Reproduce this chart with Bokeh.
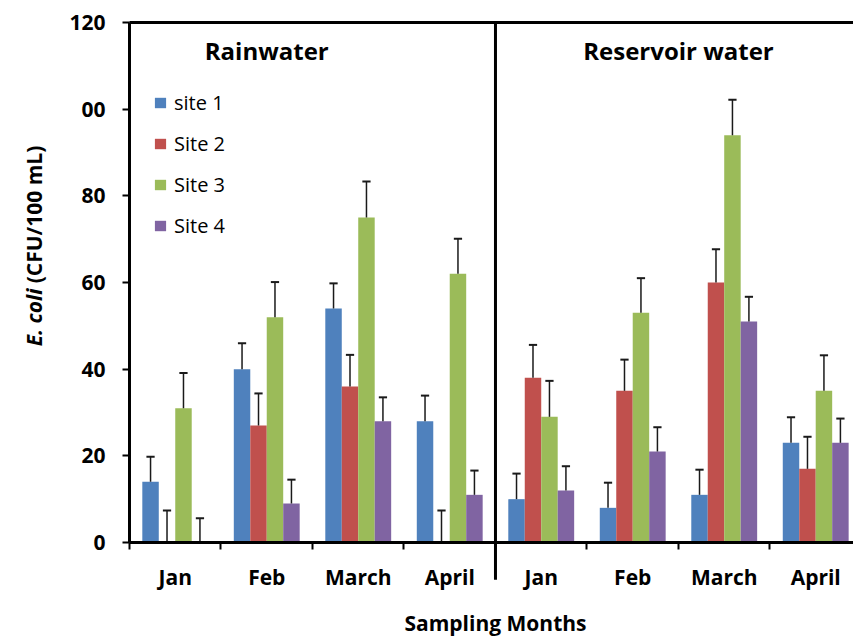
from bokeh.plotting import figure
from bokeh.models import Range1d, FixedTicker, Label, Legend, LegendItem, ColumnDataSource
from bokeh.core.properties import value
from bokeh.embed import file_html
from bokeh.resources import INLINE
import math

# E. coli counts (CFU/100 mL) per sampling month; first four groups rainwater, last four reservoir water
months = ["Jan", "Feb", "March", "April"]
panels = ["Rainwater", "Reservoir water"]
site_names = ["site 1", "Site 2", "Site 3", "Site 4"]

site1 = [14, 40, 54, 28, 10, 8, 11, 23]
site2 = [0, 27, 36, 0, 38, 35, 60, 17]
site3 = [31, 52, 75, 62, 29, 53, 94, 35]
site4 = [0, 9, 28, 11, 12, 21, 51, 23]

site1_err = [5.8, 6.0, 5.8, 5.9, 5.9, 5.8, 5.8, 5.9]
site2_err = [7.4, 7.4, 7.3, 7.4, 7.6, 7.2, 7.7, 7.4]
site3_err = [8.1, 8.1, 8.3, 8.1, 8.3, 8.0, 8.2, 8.2]
site4_err = [5.6, 5.5, 5.5, 5.6, 5.6, 5.6, 5.7, 5.6]

colors = ["#4F81BD", "#C0504D", "#9BBB59", "#8064A2"]
FONT = "Open Sans"

values = [site1, site2, site3, site4]
errors = [site1_err, site2_err, site3_err, site4_err]

n_groups = len(months) * len(panels)
centers = [i + 0.5 for i in range(n_groups)]
boundaries = list(range(n_groups + 1))
bar_w = 0.18
offsets = [-0.27, -0.09, 0.09, 0.27]
cap_half = 0.045

p = figure(width=853, height=639, output_backend="svg", toolbar_location=None,
           x_range=Range1d(0, 7.913), y_range=Range1d(0, 120),
           min_border_left=129, min_border_right=0, min_border_top=22, min_border_bottom=97)
p.outline_line_color = None
p.grid.visible = False

items = []
for k in range(4):
    xs = [c + offsets[k] for c in centers]
    tops = values[k]
    ends = [t + e for t, e in zip(tops, errors[k])]
    src = ColumnDataSource(dict(x=xs, top=tops, end=ends,
                                cl=[x - cap_half for x in xs], cr=[x + cap_half for x in xs]))
    r = p.vbar(x="x", top="top", bottom=0, width=bar_w, source=src,
               fill_color=colors[k], line_color=None)
    p.segment(x0="x", y0="top", x1="x", y1="end", source=src, line_color="#1a1a1a", line_width=1.5)
    p.segment(x0="cl", y0="end", x1="cr", y1="end", source=src, line_color="#1a1a1a", line_width=2)
    items.append(LegendItem(label=site_names[k], renderers=[r]))

# frame top line and the divider between the two water sources
p.segment(x0=[0], y0=[120], x1=[7.913], y1=[120], line_color="black", line_width=3, level="overlay")
p.segment(x0=[4], y0=[-8.6], x1=[4], y1=[120], line_color="black", line_width=3, level="overlay")

# y axis
p.yaxis.ticker = FixedTicker(ticks=[0, 20, 40, 60, 80, 100, 120])
p.yaxis.major_label_overrides = {100: "00"}
p.yaxis.axis_line_width = 3
p.yaxis.axis_line_color = "black"
p.yaxis.major_tick_out = 7
p.yaxis.major_tick_in = 0
p.yaxis.major_tick_line_width = 2
p.yaxis.major_tick_line_color = "black"
p.yaxis.minor_tick_line_color = None
p.yaxis.major_label_standoff = 17
p.yaxis.major_label_text_font = FONT
p.yaxis.major_label_text_font_style = "bold"
p.yaxis.major_label_text_font_size = "21px"
p.yaxis.major_label_text_color = "black"

# x axis: month names at group centres, tick marks at group boundaries
p.xaxis.ticker = FixedTicker(ticks=centers, minor_ticks=boundaries)
p.xaxis.major_label_overrides = {c: months[i % 4] for i, c in enumerate(centers)}
p.xaxis.axis_line_width = 3
p.xaxis.axis_line_color = "black"
p.xaxis.major_tick_line_color = None
p.xaxis.minor_tick_out = 7
p.xaxis.minor_tick_in = 0
p.xaxis.minor_tick_line_width = 2
p.xaxis.minor_tick_line_color = "black"
p.xaxis.major_label_standoff = 13
p.xaxis.major_label_text_font = FONT
p.xaxis.major_label_text_font_style = "bold"
p.xaxis.major_label_text_font_size = "21px"
p.xaxis.major_label_text_color = "black"

# panel titles
for x, name in zip([1.5, 6.0], panels):
    p.add_layout(Label(x=x, y=113.5, text=name, text_align="center", text_baseline="alphabetic",
                       text_font=FONT, text_font_style="bold", text_font_size="24px",
                       text_color="black"))

# axis titles, drawn outside the data frame
p.text(x=[4.0], y=[-18.6], text=["Sampling Months"], text_align="center",
       text_baseline="alphabetic", text_font=value(FONT), text_font_style="bold",
       text_font_size="21px", text_color="black", level="overlay")
p.text(x=[-1.04], y=[58.6], text=["E. coli"], angle=math.pi / 2, text_align="right",
       text_baseline="middle", text_font=value(FONT), text_font_style="bold italic",
       text_font_size="21px", text_color="black", level="overlay")
p.text(x=[-1.04], y=[59.8], text=["(CFU/100 mL)"], angle=math.pi / 2, text_align="left",
       text_baseline="middle", text_font=value(FONT), text_font_style="bold",
       text_font_size="21px", text_color="black", level="overlay")

legend = Legend(items=items, location=(24, 303), border_line_color=None,
                background_fill_alpha=0, padding=0, margin=0,
                glyph_width=14, glyph_height=13, label_standoff=7, spacing=14,
                label_text_font=FONT, label_text_font_size="20px", label_text_color="black")
p.add_layout(legend)

open("out.html", "w").write(file_html(p, INLINE))
